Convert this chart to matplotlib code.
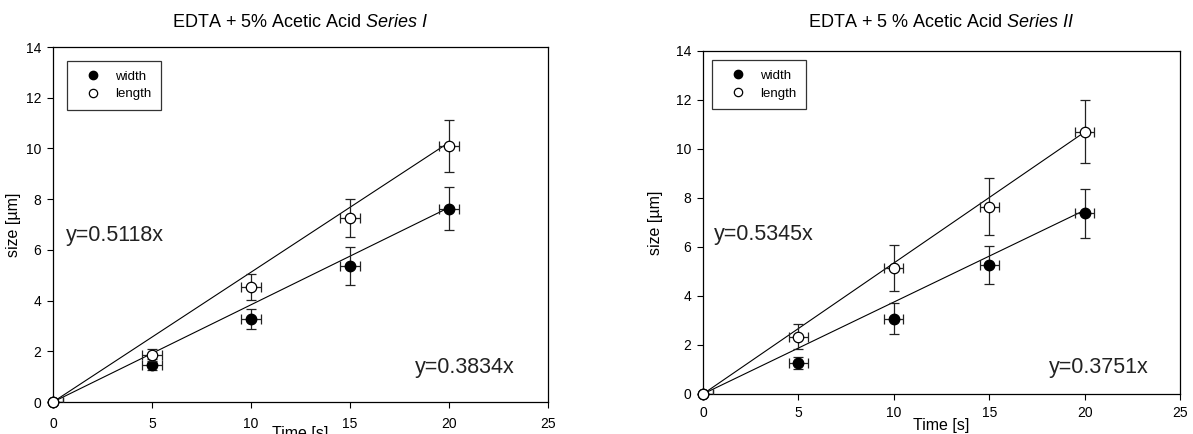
import matplotlib
matplotlib.use("Agg")
import matplotlib.pyplot as plt
import numpy as np

plt.rcParams['font.family'] = ['Liberation Sans', 'DejaVu Sans']
plt.rcParams['mathtext.fontset'] = 'custom'
plt.rcParams['mathtext.rm'] = 'Liberation Sans'
plt.rcParams['mathtext.it'] = 'Liberation Sans:italic'

# --- Data ---
time_s = [0, 5, 10, 15, 20]
time_err = [0.5, 0.5, 0.5, 0.5, 0.5]

# Series I
width_1 = [0, 1.47, 3.27, 5.38, 7.62]
width_1_err = [0, 0.21, 0.40, 0.75, 0.84]
length_1 = [0, 1.86, 4.53, 7.24, 10.09]
length_1_err = [0, 0.25, 0.50, 0.75, 1.02]
slope_len_1 = 0.5118
slope_wid_1 = 0.3834

# Series II
width_2 = [0, 1.26, 3.07, 5.27, 7.38]
width_2_err = [0, 0.24, 0.63, 0.77, 1.00]
length_2 = [0, 2.34, 5.15, 7.65, 10.71]
length_2_err = [0, 0.51, 0.95, 1.17, 1.27]
slope_len_2 = 0.5345
slope_wid_2 = 0.3751

fig = plt.figure(figsize=(11.93, 4.34), dpi=100)
ax1 = fig.add_axes([0.0444, 0.0737, 0.4149, 0.818])
ax2 = fig.add_axes([0.5893, 0.0922, 0.3998, 0.7903])


def draw_panel(ax, width, width_err, length, length_err, s_len, s_wid,
               title_plain, title_it, title_pad, xpad, xlabelpad, ylabelpad,
               eq_len_pos, eq_wid_pos, legend_anchor):
    fit_x = np.array([0, 20])
    ax.plot(fit_x, s_len * fit_x, color='black', lw=0.8, zorder=2)
    ax.plot(fit_x, s_wid * fit_x, color='black', lw=0.8, zorder=2)

    eb_w = ax.errorbar(time_s, width, yerr=width_err, xerr=time_err, fmt='o',
                       color='black', mfc='black', mec='black', ms=7.5, elinewidth=0.9,
                       capsize=3.6, capthick=0.9, ecolor='#222222', label='width', zorder=3)
    eb_l = ax.errorbar(time_s, length, yerr=length_err, xerr=time_err, fmt='o',
                       color='black', mfc='white', mec='black', ms=7.5, mew=0.9,
                       elinewidth=0.9, capsize=3.6, capthick=0.9, ecolor='#222222',
                       label='length', zorder=4)
    # origin markers sit on the axes corner and are drawn whole
    eb_w[0].set_clip_on(False)
    eb_l[0].set_clip_on(False)

    ax.set_xlim(0, 25)
    ax.set_ylim(0, 14)
    ax.set_xticks([0, 5, 10, 15, 20, 25])
    ax.set_yticks([0, 2, 4, 6, 8, 10, 12, 14])
    ax.tick_params(direction='out', length=4, width=0.8, labelsize=10)
    ax.tick_params(axis='y', pad=4.5)
    ax.tick_params(axis='x', pad=xpad)
    for sp in ax.spines.values():
        sp.set_linewidth(0.9)

    ax.set_xlabel('Time [s]', fontsize=11.5, labelpad=xlabelpad)
    ax.set_ylabel('size [µm]', fontsize=11.5, labelpad=ylabelpad)
    ax.set_title(title_plain + r' $\it{Series\ ' + title_it + '}$', fontsize=13, pad=title_pad)

    ax.text(*eq_len_pos, f'y={s_len}x', transform=ax.transAxes, fontsize=15.5,
            color='#222222', va='center', ha='left')
    ax.text(*eq_wid_pos, f'y={s_wid}x', transform=ax.transAxes, fontsize=15.5,
            color='#222222', va='center', ha='left')

    handles, labels = ax.get_legend_handles_labels()
    handles = [h[0] for h in handles]
    leg = ax.legend(handles, labels, loc='upper left', bbox_to_anchor=legend_anchor,
                    fontsize=9.5, fancybox=False, frameon=True, borderpad=0.75,
                    handlelength=2.4, handletextpad=0.5, labelspacing=0.4,
                    markerscale=0.8, borderaxespad=0)
    leg.get_frame().set_edgecolor('black')
    leg.get_frame().set_linewidth(0.9)


draw_panel(ax1, width_1, width_1_err, length_1, length_1_err,
           slope_len_1, slope_wid_1, 'EDTA + 5% Acetic Acid', 'I', 14.5, 6.5, -3, 3,
           (0.026, 0.47), (0.731, 0.096), (0.028, 0.961))
draw_panel(ax2, width_2, width_2_err, length_2, length_2_err,
           slope_len_2, slope_wid_2, 'EDTA + 5 % Acetic Acid', 'II', 17.5, 4.5, -1, 9,
           (0.023, 0.464), (0.725, 0.076), (0.019, 0.974))

fig.savefig('out.png', dpi=100)
